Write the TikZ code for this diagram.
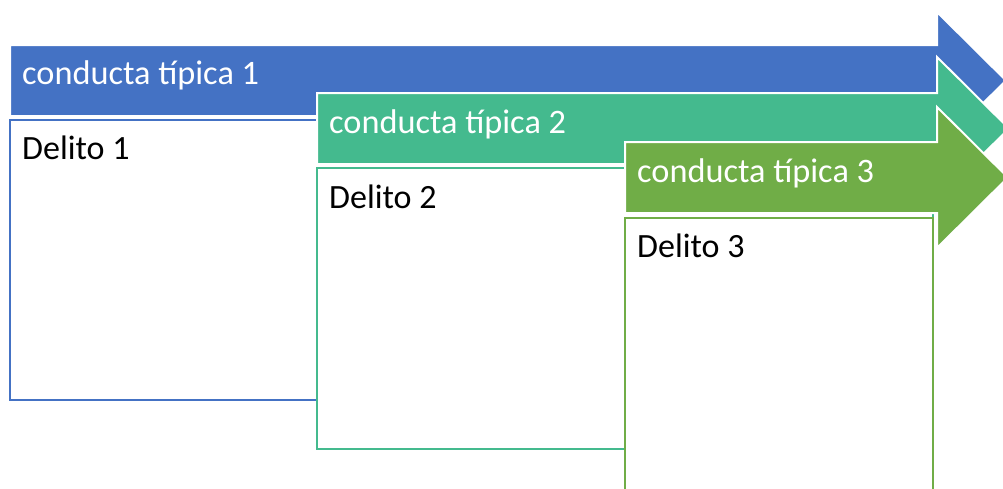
\documentclass[tikz,border=0pt]{standalone}
\usepackage{fontspec}
\setmainfont{Carlito}
\definecolor{cblue}{HTML}{4472C4}
\definecolor{cteal}{HTML}{44BA8E}
\definecolor{cgreen}{HTML}{70AD47}
\begin{document}
\begin{tikzpicture}[x=1pt,y=-1pt,
  arrowshape/.style={fill=#1, draw=white, line width=2pt, line join=miter},
  boxshape/.style={fill=white, draw=#1, line width=2pt},
  headtext/.style={anchor=base west, inner sep=0pt, text=white, font=\fontsize{34.3}{40}\selectfont},
  boxtext/.style={anchor=base west, inner sep=0pt, text=black, font=\fontsize{34}{40}\selectfont}]
\useasboundingbox (0,0) rectangle (1003,488);
\clip (0,0) rectangle (1003,488);
% arrow 1 and box 1
\draw[arrowshape=cblue] (10,45) -- (937,45) -- (937,12) -- (1006,80.5) -- (937,149) -- (937,116) -- (10,116) -- cycle;
\draw[boxshape=cblue] (10,120) rectangle (933,400);
\node[headtext] (h1) at (22,84) {conducta típica 1};
\node[boxtext] (d1) at (22,159) {Delito 1};
% arrow 2 and box 2
\draw[arrowshape=cteal] (317,93) -- (937,93) -- (937,57) -- (1009,128.5) -- (937,200) -- (937,164) -- (317,164) -- cycle;
\draw[boxshape=cteal] (317,168) rectangle (933,449);
\node[headtext] (h2) at (329,133) {conducta típica 2};
\node[boxtext] (d2) at (329,208) {Delito 2};
% arrow 3 and box 3
\draw[arrowshape=cgreen] (625,142) -- (937,142) -- (937,107) -- (1008,177.5) -- (937,248) -- (937,213) -- (625,213) -- cycle;
\draw[boxshape=cgreen] (625,218) rectangle (933,520);
\node[headtext] (h3) at (637,182) {conducta típica 3};
\node[boxtext] (d3) at (637,257) {Delito 3};
\end{tikzpicture}
\end{document}
